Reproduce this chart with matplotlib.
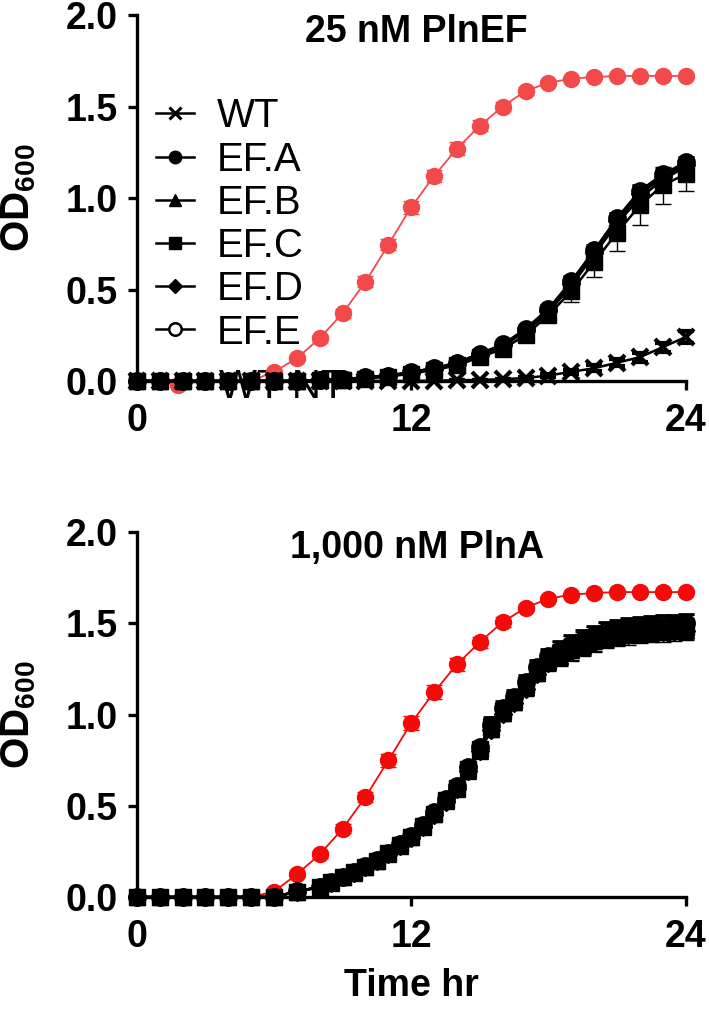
import numpy as np
import matplotlib.pyplot as plt
from matplotlib.lines import Line2D

plt.rcParams['font.family'] = ['Liberation Sans', 'DejaVu Sans']

# ---- top panel: 25 nM PlnEF ----
hrs = list(range(25))
red_t_top = [0, 1, 1.8, 3, 4, 5] + list(range(6, 25))
red_top = [0, 0, -0.02, 0, 0, 0, 0.05, 0.124, 0.234, 0.37, 0.542, 0.745, 0.95, 1.12, 1.27,
           1.395, 1.5, 1.585, 1.63, 1.652, 1.662, 1.666, 1.668, 1.667, 1.667]
red_top_err = [0]*6 + [0.01, 0.015, 0.02, 0.025, 0.03, 0.03, 0.035, 0.035, 0.035, 0.03,
                       0.025, 0.02, 0.015, 0.01, 0.008, 0.005, 0.005, 0.005, 0.005]
wt_top = [0]*13 + [0.002, 0.004, 0.006, 0.01, 0.016, 0.03, 0.05, 0.07, 0.10, 0.13, 0.185, 0.24]
wt_top_err = [0]*17 + [0.005, 0.01, 0.01, 0.015, 0.02, 0.025, 0.025, 0.035]
efa_top = [0]*8 + [0.005, 0.01, 0.02, 0.03, 0.05, 0.07, 0.10, 0.148, 0.198, 0.28, 0.39, 0.54, 0.71, 0.885, 1.03, 1.125, 1.19]
efb_top = [0]*8 + [0.004, 0.008, 0.016, 0.027, 0.045, 0.065, 0.095, 0.14, 0.19, 0.27, 0.375, 0.52, 0.69, 0.86, 1.0, 1.1, 1.17]
efc_top = [0]*8 + [0.003, 0.006, 0.013, 0.024, 0.04, 0.06, 0.085, 0.13, 0.175, 0.25, 0.36, 0.49, 0.65, 0.81, 0.96, 1.07, 1.13]
efd_top = [0]*8 + [0.004, 0.009, 0.018, 0.028, 0.045, 0.068, 0.098, 0.145, 0.195, 0.275, 0.385, 0.53, 0.70, 0.875, 1.02, 1.115, 1.18]
efe_top = [0]*8 + [0.005, 0.01, 0.02, 0.03, 0.048, 0.07, 0.10, 0.15, 0.20, 0.285, 0.395, 0.545, 0.715, 0.89, 1.04, 1.13, 1.195]
efc_top_err = [0]*15 + [0.01, 0.015, 0.02, 0.04, 0.06, 0.08, 0.1, 0.11, 0.1, 0.09]
ef_top_err = [0]*15 + [0.01, 0.01, 0.015, 0.02, 0.03, 0.03, 0.03, 0.03, 0.03, 0.03]

# ---- bottom panel: 1,000 nM PlnA ----
red_bot = [0]*6 + [0.03, 0.124, 0.234, 0.374, 0.548, 0.749, 0.953, 1.123, 1.275, 1.397,
                   1.507, 1.585, 1.635, 1.657, 1.666, 1.671, 1.671, 1.671, 1.671]
red_bot_err = [0]*6 + [0.01, 0.015, 0.02, 0.025, 0.03, 0.035, 0.04, 0.04, 0.035, 0.03,
                       0.025, 0.02, 0.01, 0.008, 0.005, 0.005, 0.005, 0.005, 0.005]
t_bot = list(range(8)) + [8 + 0.5*i for i in range(33)]
ef_bot = [0, 0, 0, 0, 0, 0, 0, 0.03, 0.055, 0.08, 0.11, 0.135, 0.165, 0.2, 0.24, 0.285, 0.33,
          0.39, 0.457, 0.53, 0.60, 0.70, 0.81, 0.93, 1.02, 1.08, 1.16, 1.24, 1.30, 1.335, 1.365,
          1.39, 1.415, 1.435, 1.446, 1.455, 1.462, 1.468, 1.472, 1.476, 1.48]
ef_bot_err = [0]*9 + [0.01]*8 + [0.02]*6 + [0.04]*6 + [0.05]*12
ef_bot_offsets = {'EF.A': 0.01, 'EF.B': -0.01, 'EF.C': 0.0, 'EF.D': -0.015, 'EF.E': 0.015}

titles = ['25 nM PlnEF', '1,000 nM PlnA']
legend_labels = ['WT', 'EF.A', 'EF.B', 'EF.C', 'EF.D', 'EF.E']
markers = {'EF.A': 'o', 'EF.B': '^', 'EF.C': 's', 'EF.D': 'D', 'EF.E': 'o'}

fig = plt.figure(figsize=(7.09, 10.09), dpi=100)
ax1 = fig.add_axes([0.193, 0.6224, 0.774, 0.3627])
ax2 = fig.add_axes([0.193, 0.111, 0.774, 0.3617])

ms = 11.5
def style(ax, title):
    for s in ['top', 'right']:
        ax.spines[s].set_visible(False)
    for s in ['left', 'bottom']:
        ax.spines[s].set_linewidth(2.4)
    ax.set_xlim(0, 24)
    ax.set_ylim(0, 2.0)
    ax.set_xticks([0, 12, 24])
    ax.set_yticks([0, 0.5, 1.0, 1.5, 2.0])
    ax.set_yticklabels(['0.0', '0.5', '1.0', '1.5', '2.0'])
    ax.tick_params(width=2.4, length=6.5, labelsize=27)
    ax.tick_params(axis='y', pad=7)
    ax.tick_params(axis='x', pad=9)
    for lab in ax.get_xticklabels() + ax.get_yticklabels():
        lab.set_fontweight('bold')
    ax.set_ylabel(r'OD$_{\mathregular{600}}$', fontsize=29, fontweight='bold')
    ax.yaxis.set_label_coords(-0.18, 0.5)
    ax.text(0.51, 0.955, title, transform=ax.transAxes, ha='center', va='center',
            fontsize=27, fontweight='bold')

style(ax1, titles[0])
style(ax2, titles[1])

# top panel
ax1.errorbar(red_t_top, red_top, yerr=red_top_err, color='#f24a4a', marker='o', ms=ms,
             lw=1.3, capsize=6, elinewidth=1.0, clip_on=False, zorder=3)
ax1.text(3.6, -0.035, 'WT NT', fontsize=29, ha='left', va='center', zorder=2)
top_series = [('EF.E', efe_top, ef_top_err), ('EF.D', efd_top, ef_top_err),
              ('EF.B', efb_top, ef_top_err), ('EF.C', efc_top, efc_top_err),
              ('EF.A', efa_top, ef_top_err)]
for name, ys, err in top_series:
    mfc = 'white' if name == 'EF.E' else 'black'
    ax1.errorbar(hrs, ys, yerr=err, color='black', marker=markers[name], mfc=mfc, mec='black',
                 mew=2 if name == 'EF.E' else 1, ms=ms if markers[name] != 'D' else 9,
                 lw=1.8, capsize=6, elinewidth=1.0, clip_on=False, zorder=4)
ax1.errorbar(hrs, wt_top, yerr=wt_top_err, color='black', marker='x', ms=12, mew=3,
             lw=1.8, capsize=6, elinewidth=1.0, clip_on=False, zorder=5)

handles = [Line2D([], [], color='black', marker='x', ms=9, mew=2.2, lw=1.8)]
for name in ['EF.A', 'EF.B', 'EF.C', 'EF.D', 'EF.E']:
    mfc = 'white' if name == 'EF.E' else 'black'
    handles.append(Line2D([], [], color='black', marker=markers[name], mfc=mfc,
                          ms=9 if markers[name] != 'D' else 7, mew=1.8 if name == 'EF.E' else 1, lw=1.8))
ax1.legend(handles, legend_labels, loc='upper left', bbox_to_anchor=(0.035, 0.775), frameon=False,
           fontsize=29, handlelength=0.95, handletextpad=0.55, labelspacing=0.13,
           borderpad=0, borderaxespad=0)

# bottom panel
ax2.errorbar(hrs, red_bot, yerr=red_bot_err, color='#f50a0a', marker='o', ms=ms,
             lw=1.3, capsize=6, elinewidth=1.0, clip_on=False, zorder=3)
for name in ['EF.E', 'EF.D', 'EF.B', 'EF.A', 'EF.C']:
    ys = [max(v + ef_bot_offsets[name] * v, 0) for v in ef_bot]
    mfc = 'white' if name == 'EF.E' else 'black'
    ax2.errorbar(t_bot, ys, yerr=ef_bot_err, color='black', marker=markers[name], mfc=mfc,
                 mec='black', mew=2 if name == 'EF.E' else 1,
                 ms=ms if markers[name] != 'D' else 9,
                 lw=1.8, capsize=6, elinewidth=1.0, clip_on=False, zorder=4)
ax2.set_xlabel('Time hr', fontsize=27, fontweight='bold', labelpad=10)

fig.savefig('out.png', dpi=100)
